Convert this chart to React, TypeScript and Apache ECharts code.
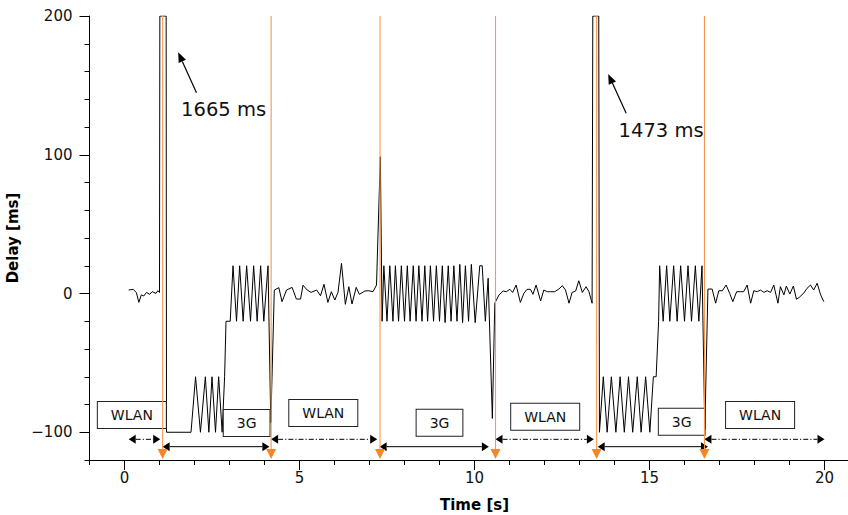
import React, { useEffect, useRef } from "react";
import * as echarts from "echarts";

// ---------- data (time [s], delay [ms]) ----------
const wlanA: [number, number][] = [[0.12,2.5],[0.25,3],[0.34,0.6],[0.41,-6.4],[0.48,-1],[0.55,-1.8],[0.63,0.8],[0.72,-0.6],[0.79,1.3],[0.9,0.1],[0.95,2],[1.0,0.8]];
const spikeA: [number, number][] = [[1.01,1665],[1.19,1665]];
const threeGA: [number, number][] = [[1.2,-100],[1.9,-100],[2.03,-60],[2.17,-100],[2.31,-60],[2.41,-100],[2.5,-60],[2.6,-100],[2.69,-60],[2.79,-100],[2.86,-60],[2.9,-20],[3.02,-20],[3.1,20],[3.2,-20],[3.29,20],[3.39,-20],[3.49,20],[3.6,-20],[3.69,20],[3.79,-20],[3.89,20],[3.98,-20],[4.1,20],[4.18,-93]];
const wlanB: [number, number][] = [[4.28,2.5],[4.41,4.2],[4.5,-5.9],[4.63,2.5],[4.79,4.4],[4.91,-4],[5.03,-4],[5.1,6],[5.22,2.5],[5.33,0.8],[5.49,2.5],[5.6,-1.6],[5.7,6.6],[5.81,-6.4],[5.91,1.3],[6.01,-4.7],[6.1,0.8],[6.2,21.7],[6.31,-7.8],[6.41,4.9],[6.5,-7.6],[6.62,4.4],[6.71,-0.6],[6.87,1.8],[6.98,2],[7.1,1.3],[7.2,6.1]];
const peakB: [number, number][] = [[7.31,98.6]];
const threeGB: [number, number][] = [[7.36,-20],[7.41,20],[7.5,-20],[7.58,20],[7.67,-20],[7.74,20],[7.83,-20],[7.91,20],[8.0,-20],[8.08,20],[8.16,-20],[8.25,20],[8.33,-20],[8.41,20],[8.5,-20],[8.58,20],[8.66,-20],[8.74,20],[8.83,-20],[8.91,20],[9.0,-20],[9.08,20],[9.16,-21],[9.25,20],[9.33,-20],[9.41,20],[9.5,-20],[9.58,21],[9.66,-21],[9.74,20],[9.83,-20],[9.91,21],[10.02,-21],[10.15,20],[10.22,20],[10.31,-20],[10.39,11],[10.51,-90]];
const wlanC: [number, number][] = [[10.58,-7],[10.7,-1],[10.82,1.8],[10.91,1.3],[11.01,3],[11.09,0.8],[11.19,6.1],[11.31,-6.4],[11.41,0.1],[11.5,3],[11.6,3],[11.67,-0.6],[11.76,6.1],[11.89,-5.4],[11.98,2.5],[12.08,1.3],[12.17,1.3],[12.29,1.3],[12.41,3.2],[12.51,5.6],[12.6,2.5],[12.7,-7],[12.79,0.8],[12.89,1.8],[12.98,9.2],[13.08,0.8],[13.19,4.9],[13.27,1.3],[13.36,-7]];
const spikeC: [number, number][] = [[13.38,1473],[13.55,1473]];
const threeGC: [number, number][] = [[13.57,-100],[13.68,-60],[13.79,-100],[13.91,-60],[14.04,-100],[14.16,-60],[14.28,-100],[14.4,-60],[14.52,-100],[14.65,-60],[14.76,-100],[14.89,-60],[15.01,-100],[15.11,-60],[15.19,-60],[15.26,-20],[15.29,20],[15.39,-20],[15.49,20],[15.58,-20],[15.69,20],[15.79,-20],[15.89,20],[16.0,-20],[16.1,20],[16.2,-20],[16.31,20],[16.41,-20],[16.5,20],[16.58,-98]];
const wlanD: [number, number][] = [[16.67,3.2],[16.79,3.2],[16.89,-7],[16.98,2],[17.08,2],[17.19,6.1],[17.29,0.1],[17.38,-5.9],[17.49,1.3],[17.6,1.3],[17.69,1.3],[17.79,6.1],[17.89,-7],[17.98,2],[18.08,1.3],[18.17,2.5],[18.27,0.8],[18.36,2],[18.46,0.8],[18.55,6.1],[18.67,-7],[18.74,4.9],[18.84,-1],[18.91,5.4],[19.01,-0.4],[19.11,5.4],[19.2,-4.2],[19.29,-2.5],[19.41,0.4],[19.5,3.7],[19.6,6.1],[19.69,2.5],[19.79,7.4],[19.89,-1],[19.98,-5.9]];

const handoverTimes = [1.09, 4.19, 7.3, 10.6, 13.49, 16.57];
const wlanPeriods: [number, number][] = [[0.12,1.02],[4.19,7.22],[10.6,13.41],[16.57,20.0]];
const threeGPeriods: [number, number][] = [[1.09,4.14],[7.29,10.41],[13.52,16.67]];
const periodLabels = ["WLAN","3G","WLAN","3G","WLAN","3G","WLAN"];
const peakLabels = ["1665 ms", "1473 ms"];

const xMajorTicks = [0, 5, 10, 15, 20];
const yMajorTicks = [-100, 0, 100, 200];

// ---------- layout (positions in data units) ----------
const Y_MIN = -120, Y_MAX = 200, X_MIN = -1, X_MAX = 21;
const ROW_WLAN = -105.1, ROW_3G = -110.4;
const labelPos: [number, number][] = [[0.21,-87.6],[3.49,-93.3],[5.68,-86.1],[9.0,-93.1],[12.02,-88.8],[15.92,-92.4],[18.16,-87.6]];
// tailT, tailV, tipT, tipV, textT, textV
const peakAnno: number[][] = [[2.057,144.7,1.534,173.8,2.83,132.3],[14.334,129.9,13.82,158.2,15.33,117.8]];

const FONT = "DejaVu Sans";
const ORANGE = "#f5862a";
const ORANGE_LINE = "#f59a4c";

const delay = [...wlanA, ...spikeA, ...threeGA, ...wlanB, ...peakB, ...threeGB, ...wlanC, ...spikeC, ...threeGC, ...wlanD]
  .map(([t, v]) => [t, Math.min(v, Y_MAX)]);

const minus = (v: number) => (v < 0 ? "\u2212" + Math.abs(v) : String(v));

export default function App() {
  const ref = useRef<HTMLDivElement>(null);
  useEffect(() => {
    document.body.style.margin = "0";
    document.body.style.overflow = "hidden";
    document.documentElement.style.overflow = "hidden";
    const chart = echarts.init(ref.current!, null, { renderer: "svg" });
    const option: any = {
      animation: false,
      textStyle: { fontFamily: FONT },
      grid: { left: 89.5, top: 16, width: 770, height: 444, containLabel: false, outerBoundsMode: "none" },
      xAxis: [
        {
          type: "value", min: X_MIN, max: X_MAX, position: "bottom",
          axisLine: { onZero: false, lineStyle: { color: "#000", width: 1 } },
          axisTick: { customValues: xMajorTicks, length: 10, lineStyle: { color: "#000" } },
          axisLabel: { customValues: xMajorTicks, fontSize: 15, color: "#111", margin: 10, fontFamily: FONT },
          splitLine: { show: false },
          name: "Time [s]", nameLocation: "middle", nameGap: 37,
          nameTextStyle: { fontWeight: "bold", fontSize: 15, color: "#000", fontFamily: FONT },
        },
        {
          type: "value", min: X_MIN, max: X_MAX, interval: 1, position: "bottom",
          axisLine: { show: false, onZero: false },
          axisTick: { length: 5, lineStyle: { color: "#000" } },
          axisLabel: { show: false }, splitLine: { show: false },
        },
      ],
      yAxis: [
        {
          type: "value", min: Y_MIN, max: Y_MAX, position: "left",
          axisLine: { show: true, onZero: false, lineStyle: { color: "#000", width: 1 } },
          axisTick: { show: true, customValues: yMajorTicks, length: 10, lineStyle: { color: "#000" } },
          axisLabel: { customValues: yMajorTicks, fontSize: 15, color: "#111", margin: 17, fontFamily: FONT, formatter: (v: number) => minus(v) },
          splitLine: { show: false },
          name: "Delay [ms]", nameLocation: "middle", nameGap: 61, nameRotate: 90,
          nameTextStyle: { fontWeight: "bold", fontSize: 15, color: "#000", fontFamily: FONT },
        },
        {
          type: "value", min: Y_MIN, max: Y_MAX, interval: 20, position: "left",
          axisLine: { show: false, onZero: false },
          axisTick: { show: true, length: 5, lineStyle: { color: "#000" } },
          axisLabel: { show: false }, splitLine: { show: false },
        },
      ],
      series: [
        {
          type: "line", data: delay, showSymbol: false, symbol: "none", clip: true, z: 2,
          lineStyle: { color: "#000", width: 1 }, emphasis: { disabled: true },
        },
        {
          type: "custom", z: 3, clip: false,
          data: labelPos.map(([t, v]) => [t, v]), encode: { x: 0, y: 1 },
          renderItem: (params: any, api: any) => {
            const p = api.coord([api.value(0), api.value(1)]);
            return {
              type: "text", x: p[0], y: p[1],
              style: {
                text: periodLabels[params.dataIndex], fontSize: 14, fontFamily: FONT, fill: "#111",
                align: "center", verticalAlign: "middle", lineHeight: 16,
                backgroundColor: "#fff", borderColor: "#222", borderWidth: 1, padding: [5, 13, 5, 13],
              },
            };
          },
        },
        {
          type: "custom", z: 4, clip: false,
          data: [
            ...wlanPeriods.map(([a, b]) => [a, b, ROW_WLAN, 1]),
            ...threeGPeriods.map(([a, b]) => [a, b, ROW_3G, 0]),
          ],
          encode: { x: [0, 1], y: 2 },
          renderItem: (params: any, api: any) => {
            const s = api.coord([api.value(0), api.value(2)]);
            const e = api.coord([api.value(1), api.value(2)]);
            const dashed = api.value(3) === 1;
            const hl = 7, hw = 4.5;
            return {
              type: "group",
              children: [
                { type: "line", shape: { x1: s[0] + hl, y1: s[1], x2: e[0] - hl, y2: e[1] },
                  style: { stroke: "#000", lineWidth: 1, lineDash: dashed ? [5, 2, 1.2, 2] : null } },
                { type: "polygon", shape: { points: [[s[0], s[1]], [s[0] + hl, s[1] - hw], [s[0] + hl, s[1] + hw]] }, style: { fill: "#000" } },
                { type: "polygon", shape: { points: [[e[0], e[1]], [e[0] - hl, e[1] - hw], [e[0] - hl, e[1] + hw]] }, style: { fill: "#000" } },
              ],
            };
          },
        },
        {
          type: "custom", z: 4, clip: false,
          data: peakAnno, encode: { x: [0, 2, 4], y: [1, 3, 5] },
          renderItem: (params: any, api: any) => {
            const tail = api.coord([api.value(0), api.value(1)]);
            const tip = api.coord([api.value(2), api.value(3)]);
            const tp = api.coord([api.value(4), api.value(5)]);
            const dx = tip[0] - tail[0], dy = tip[1] - tail[1];
            const len = Math.sqrt(dx * dx + dy * dy);
            const ux = dx / len, uy = dy / len;
            const L = 10, W = 4;
            const bx = tip[0] - ux * L, by = tip[1] - uy * L;
            const px = -uy, py = ux;
            return {
              type: "group",
              children: [
                { type: "line", shape: { x1: tail[0], y1: tail[1], x2: bx, y2: by }, style: { stroke: "#000", lineWidth: 1.2 } },
                { type: "polygon", shape: { points: [[tip[0], tip[1]], [bx + px * W, by + py * W], [bx - px * W, by - py * W]] }, style: { fill: "#000" } },
                { type: "text", x: tp[0], y: tp[1], style: { text: peakLabels[params.dataIndex], fontSize: 19.5, fontFamily: FONT, fill: "#111", align: "center", verticalAlign: "middle" } },
              ],
            };
          },
        },
        {
          type: "custom", z: 5, clip: false,
          data: handoverTimes.map((t) => [t, Y_MIN]), encode: { x: 0, y: 1 },
          renderItem: (params: any, api: any) => {
            const t = api.value(0);
            const top = api.coord([t, Y_MAX]);
            const bot = api.coord([t, Y_MIN]);
            return {
              type: "group",
              children: [
                { type: "line", shape: { x1: top[0], y1: top[1], x2: bot[0], y2: bot[1] - 6 }, style: { stroke: ORANGE_LINE, lineWidth: 1.1 } },
                { type: "polygon", shape: { points: [[bot[0] - 5, bot[1] - 11], [bot[0] + 5, bot[1] - 11], [bot[0], bot[1] - 1]] }, style: { fill: ORANGE } },
              ],
            };
          },
        },
      ],
    };
    chart.setOption(option);
    return () => chart.dispose();
  }, []);
  return <div ref={ref} style={{ width: 870, height: 515, position: "absolute", left: 0, top: 0, background: "#fff" }} />;
}
